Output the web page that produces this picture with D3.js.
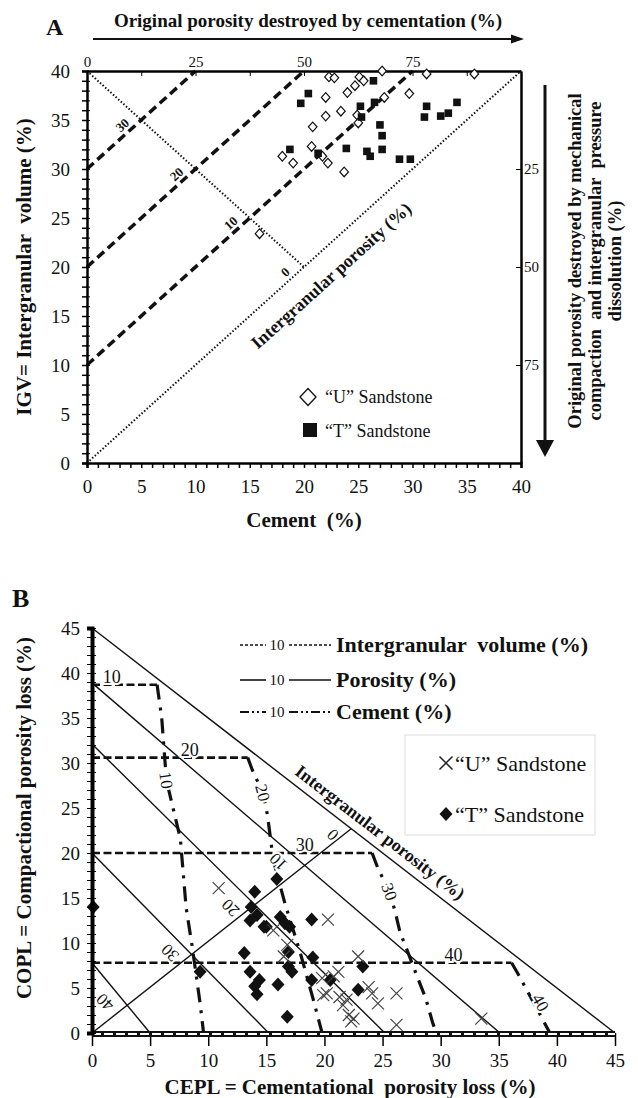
<!DOCTYPE html>
<html>
<head>
<meta charset="utf-8">
<script src="https://cdn.jsdelivr.net/npm/d3@7/dist/d3.min.js"></script>
<style>
  body { margin: 0; background: #fff; }
  svg text { font-family: "Liberation Serif", "Times New Roman", serif; fill: #111; }
  .bold { font-weight: bold; }
  .halo { paint-order: stroke; stroke: #fff; stroke-width: 4px; }
</style>
</head>
<body>
<svg id="fig" width="638" height="1098"></svg>
<script>
// ---------- panel A : IGV vs cement ----------
var uCement = [22.3, 22.8, 25.1, 25.5, 27.2, 31.3, 35.7, 24.0, 24.7, 22.0, 29.7, 27.4, 23.4, 22.0, 20.8, 24.9, 25.0, 20.7, 18.0, 19.0, 21.7, 22.2, 23.7, 15.9];
var uIGV    = [39.4, 39.3, 39.4, 39.0, 40.0, 39.7, 39.7, 37.8, 38.5, 37.3, 37.7, 37.3, 35.9, 35.4, 34.3, 35.5, 34.7, 32.3, 31.3, 30.6, 31.3, 30.6, 29.7, 23.4];
var tCement = [20.4, 19.7, 26.4, 25.2, 26.5, 25.3, 27.0, 27.2, 27.2, 23.9, 25.8, 26.1, 28.8, 29.8, 31.3, 31.1, 32.6, 33.3, 34.1, 18.7, 21.3];
var tIGV    = [37.7, 36.7, 39.0, 36.4, 36.8, 35.3, 34.5, 33.4, 32.0, 32.1, 31.8, 31.3, 31.0, 31.0, 36.4, 35.3, 35.4, 35.7, 36.8, 32.0, 31.6];
var porosityA = [30, 20, 10];          // dashed lines IGV = cement + p
var porosityLabelsA = [30, 20, 10, 0];
var topTicksA = [0, 25, 50, 75];
var rightTicksA = [25, 50, 75];

// ---------- panel B : COPL vs CEPL ----------
var uCEPL = [10.9, 15.6, 16.8, 16.5, 20.3, 22.9, 21.2, 20.8, 19.8, 19.9, 21.3, 21.6, 22.5, 22.3, 23.8, 24.6, 26.2, 26.2, 33.5, 24.1, 21.9, 22.1, 20.2];
var uCOPL = [16.1, 11.4, 9.8, 8.5, 12.6, 8.5, 6.8, 6.3, 6.1, 4.2, 4.0, 3.1, 1.6, 1.3, 5.1, 3.3, 4.4, 0.9, 1.6, 4.4, 3.7, 2.0, 4.4];
var tCEPL = [0.1, 9.3, 14.0, 13.7, 14.2, 13.6, 14.8, 15.9, 16.2, 16.6, 17.0, 18.9, 13.1, 16.9, 19.0, 16.9, 17.2, 13.6, 14.4, 14.0, 14.2, 16.0, 18.9, 20.5, 23.3, 22.9, 16.8, 15.0];
var tCOPL = [14.0, 6.8, 15.7, 14.0, 13.1, 12.5, 11.8, 17.1, 12.9, 12.2, 11.8, 12.6, 8.9, 9.0, 8.4, 7.4, 6.8, 6.8, 5.9, 5.2, 4.3, 5.4, 5.9, 5.9, 7.4, 4.8, 1.8, 11.8];

var igvValues = [10, 20, 30, 40];
var igvCOPL = [38.7, 30.6, 20.0, 7.8];
var igvEndCEPL = [5.6, 13.4, 24.1, 36.1];
var igvLabelCEPL = [1.7, 8.4, 18.3, 31.1];

var porValues = [10, 20, 30, 40];
var porStartCOPL = [38.9, 32.1, 20.0, 7.8];
var porEndCEPL = [35.1, 25.2, 15.2, 5.0];
var porLabelPos = [[16.0, 19.0], [11.9, 13.9], [6.7, 8.9], [1.1, 3.4]];

var cementValues = [10, 20, 30, 40];
var cementCurves = [
    [[5.6, 38.7], [6.0, 35.0], [6.4, 28.1], [7.6, 21.6], [8.1, 13.9], [8.6, 9.8], [9.3, 3.3], [9.6, 0]],
    [[13.4, 30.6], [13.8, 29.2], [14.7, 26.7], [15.1, 24.2], [15.6, 19.2], [16.6, 14.4], [17.9, 9.0], [19.0, 3.9], [19.8, 0]],
    [[24.1, 20.0], [24.6, 18.3], [25.6, 15.7], [26.1, 13.4], [26.5, 11.2], [27.2, 8.9], [28.0, 6.2], [28.7, 3.9], [29.3, 1.2], [29.6, 0]],
    [[36.1, 7.8], [36.6, 6.7], [37.4, 4.8], [38.2, 2.9], [39.4, 0]]
];
var cementLabelPos = [[6.4, 28.1], [14.7, 26.7], [25.6, 15.7], [38.6, 3.4]];
var cementLabelAngle = [82, 75, 70, 60];

var SERIF = '"Liberation Serif", "Times New Roman", serif';
var svg = d3.select('#fig');

function diamond(rx, ry) {
    return 'M0,' + (-ry) + 'L' + rx + ',0L0,' + ry + 'L' + (-rx) + ',0Z';
}
function cross(r) {
    return 'M' + (-r) + ',' + (-r) + 'L' + r + ',' + r + 'M' + r + ',' + (-r) + 'L' + (-r) + ',' + r;
}
function zip(a, b) {
    return a.map(function (d, i) { return [d, b[i]]; });
}

// =============== PANEL A ===============
var xA = d3.scaleLinear().domain([0, 40]).range([87, 521]),
    yA = d3.scaleLinear().domain([0, 40]).range([463, 71]),
    topA = d3.scaleLinear().domain([0, 100]).range([87, 521]),
    rightA = d3.scaleLinear().domain([0, 100]).range([71, 463]);
var lineA = d3.line().x(function (d) { return xA(d[0]); }).y(function (d) { return yA(d[1]); });

var gA = svg.append('g');

// dashed porosity lines
gA.selectAll('.pA').data(porosityA).enter().append('path')
    .attr('d', function (p) { return lineA([[0, p], [40 - p, 40]]); })
    .attr('fill', 'none').attr('stroke', '#111')
    .attr('stroke-width', 3.5).attr('stroke-dasharray', '9,5');

// dotted lines : porosity 0 and original-porosity line
gA.append('path').attr('d', lineA([[0, 0], [40, 40]]))
    .attr('fill', 'none').attr('stroke', '#111').attr('stroke-width', 2).attr('stroke-dasharray', '1.5,2');
gA.append('path').attr('d', lineA([[0, 40], [20, 20]]))
    .attr('fill', 'none').attr('stroke', '#111').attr('stroke-width', 2).attr('stroke-dasharray', '1.5,2');

gA.selectAll('.plab').data(porosityLabelsA).enter().append('text')
    .attr('class', 'bold')
    .attr('transform', function (p) {
        return 'translate(' + (xA((40 - p) / 2) - 19) + ',' + (yA((40 + p) / 2) + 5) + ') rotate(-42)';
    })
    .attr('text-anchor', 'middle').attr('dy', '0.35em')
    .style('font-size', '13px')
    .text(function (p) { return p; });

gA.append('text').attr('class', 'bold')
    .attr('transform', 'translate(' + (xA(22.3) + 2) + ',' + (yA(22.3) + 31) + ') rotate(-42)')
    .attr('text-anchor', 'middle').attr('dy', '0.35em')
    .style('font-size', '18px')
    .text('Intergranular porosity (%)');

// axes
var axBottomA = gA.append('g').attr('transform', 'translate(0,' + yA(0) + ')')
    .call(d3.axisBottom(xA).tickValues(d3.range(0, 41)).tickSize(5).tickPadding(12)
        .tickFormat(function (d) { return d % 5 ? '' : d; }));
var axLeftA = gA.append('g').attr('transform', 'translate(' + xA(0) + ',0)')
    .call(d3.axisLeft(yA).tickValues(d3.range(0, 41)).tickSize(5).tickPadding(12)
        .tickFormat(function (d) { return d % 5 ? '' : d; }));
gA.append('g').attr('transform', 'translate(' + xA(0) + ',0)')
    .call(d3.axisRight(yA).tickValues(d3.range(0, 41)).tickSize(3).tickFormat(''));
[axBottomA, axLeftA].forEach(function (a) {
    a.attr('font-size', 19);
    a.select('.domain').attr('stroke-width', 2.5);
    a.selectAll('.tick line').attr('stroke-width', 1.5);
});
var axTopA = gA.append('g').attr('transform', 'translate(0,' + yA(40) + ')')
    .call(d3.axisTop(topA).tickValues(topTicksA).tickSize(0).tickPadding(4));
axTopA.attr('font-size', 15);
axTopA.select('.domain').attr('stroke-width', 2.5);
gA.append('g').attr('transform', 'translate(0,' + yA(40) + ')')
    .call(d3.axisBottom(topA).tickValues(d3.range(12.5, 100, 12.5)).tickSize(5).tickSizeOuter(0).tickFormat(''))
    .select('.domain').remove();
var axRightA = gA.append('g').attr('transform', 'translate(' + xA(40) + ',0)')
    .call(d3.axisRight(rightA).tickValues(rightTicksA).tickSizeInner(-5).tickSizeOuter(0).tickPadding(3));
axRightA.attr('font-size', 15);
axRightA.select('.domain').attr('stroke-width', 2.5);

// points
gA.selectAll('.uA').data(zip(uCement, uIGV)).enter().append('path')
    .attr('transform', function (d) { return 'translate(' + xA(d[0]) + ',' + yA(d[1]) + ')'; })
    .attr('d', diamond(4.3, 4.8)).attr('fill', '#fff').attr('stroke', '#111').attr('stroke-width', 1.2);
gA.selectAll('.tA').data(zip(tCement, tIGV)).enter().append('rect')
    .attr('x', function (d) { return xA(d[0]) - 3.8; })
    .attr('y', function (d) { return yA(d[1]) - 3.8; })
    .attr('width', 7.6).attr('height', 7.6).attr('fill', '#111');

// legend A
gA.append('path').attr('transform', 'translate(308,397)').attr('d', diamond(8, 8.5))
    .attr('fill', '#fff').attr('stroke', '#111').attr('stroke-width', 1.3);
gA.append('rect').attr('x', 303).attr('y', 423).attr('width', 14).attr('height', 14).attr('fill', '#111');
gA.append('text').attr('x', 325).attr('y', 403).style('font-size', '18px').text('\u201CU\u201D Sandstone');
gA.append('text').attr('x', 325).attr('y', 437).style('font-size', '18px').text('\u201CT\u201D Sandstone');

// titles A
svg.append('text').attr('class', 'bold').attr('x', 46).attr('y', 35).style('font-size', '24px').text('A');
svg.append('text').attr('class', 'bold').attr('x', 308).attr('y', 27).attr('text-anchor', 'middle')
    .style('font-size', '19px').text('Original porosity destroyed by cementation (%)');
svg.append('line').attr('x1', 93).attr('x2', 514).attr('y1', 39).attr('y2', 39)
    .attr('stroke', '#111').attr('stroke-width', 2);
svg.append('path').attr('d', 'M524,39L511,34.5L511,43.5Z').attr('fill', '#111');

svg.append('text').attr('class', 'bold')
    .attr('transform', 'translate(31,267) rotate(-90)').attr('text-anchor', 'middle')
    .style('font-size', '21px').text('IGV= Intergranular  volume (%)').style('white-space', 'pre');
svg.append('text').attr('class', 'bold').attr('x', 304).attr('y', 527).attr('text-anchor', 'middle')
    .style('font-size', '21px').text('Cement  (%)').style('white-space', 'pre');

svg.append('line').attr('x1', 545).attr('x2', 545).attr('y1', 85).attr('y2', 442)
    .attr('stroke', '#111').attr('stroke-width', 3);
svg.append('path').attr('d', 'M545,457L536,440L554,440Z').attr('fill', '#111');
var rightTitle = ['Original porosity destroyed by mechanical', 'compaction  and intergranular  pressure', 'dissolution (%)'];
svg.selectAll('.rt').data(rightTitle).enter().append('text').attr('class', 'bold')
    .attr('transform', function (d, i) { return 'translate(' + (575 + i * 20) + ',261) rotate(-90)'; })
    .attr('text-anchor', 'middle').attr('dy', '0.35em').style('white-space', 'pre')
    .style('font-size', '18.5px').text(function (d) { return d; });

// =============== PANEL B ===============
var xB = d3.scaleLinear().domain([0, 45]).range([92, 615]),
    yB = d3.scaleLinear().domain([0, 45]).range([1033, 628]);
var lineB = d3.line().x(function (d) { return xB(d[0]); }).y(function (d) { return yB(d[1]); });
var gB = svg.append('g');

// solid porosity lines
gB.append('path').attr('d', lineB([[0, 45], [45, 0]]))
    .attr('fill', 'none').attr('stroke', '#111').attr('stroke-width', 1.4);
gB.selectAll('.pB').data(porValues).enter().append('path')
    .attr('d', function (d, i) { return lineB([[0, porStartCOPL[i]], [porEndCEPL[i], 0]]); })
    .attr('fill', 'none').attr('stroke', '#111').attr('stroke-width', 1.4);
gB.append('path').attr('d', lineB([[0, 0], [22.3, 22.7]]))
    .attr('fill', 'none').attr('stroke', '#111').attr('stroke-width', 1.4);

// dashed IGV lines
gB.selectAll('.iB').data(igvValues).enter().append('path')
    .attr('d', function (d, i) { return lineB([[0, igvCOPL[i]], [igvEndCEPL[i], igvCOPL[i]]]); })
    .attr('fill', 'none').attr('stroke', '#111').attr('stroke-width', 2.6).attr('stroke-dasharray', '8,3.5');

// dash-dot cement lines
gB.selectAll('.cB').data(cementCurves).enter().append('path')
    .attr('d', function (d) { return lineB(d); })
    .attr('fill', 'none').attr('stroke', '#111').attr('stroke-width', 3.2).attr('stroke-dasharray', '15,8,3,8');

// points B
gB.selectAll('.tB').data(zip(tCEPL, tCOPL)).enter().append('path')
    .attr('transform', function (d) { return 'translate(' + xB(d[0]) + ',' + yB(d[1]) + ')'; })
    .attr('d', diamond(6.5, 7)).attr('fill', '#111');
gB.selectAll('.uB').data(zip(uCEPL, uCOPL)).enter().append('path')
    .attr('transform', function (d) { return 'translate(' + xB(d[0]) + ',' + yB(d[1]) + ')'; })
    .attr('d', cross(6)).attr('fill', 'none').attr('stroke', '#444').attr('stroke-width', 1.2);

// labels on lines
gB.selectAll('.iLab').data(igvValues).enter().append('text').attr('class', 'halo')
    .attr('x', function (d, i) { return xB(igvLabelCEPL[i]); })
    .attr('y', function (d, i) { return yB(igvCOPL[i]) - 2; })
    .attr('text-anchor', 'middle').style('font-size', '18px')
    .text(function (d) { return d; });
gB.selectAll('.pLab').data(porValues).enter().append('text').attr('class', 'halo')
    .attr('transform', function (d, i) {
        return 'translate(' + xB(porLabelPos[i][0]) + ',' + yB(porLabelPos[i][1]) + ') rotate(225)';
    })
    .attr('text-anchor', 'middle').attr('dy', '0.35em').style('font-size', '17px')
    .text(function (d) { return d; });
gB.append('text').attr('class', 'halo')
    .attr('transform', 'translate(' + xB(20.7) + ',' + yB(22.0) + ') rotate(225)')
    .attr('text-anchor', 'middle').attr('dy', '0.35em').style('font-size', '17px').text('0');
gB.selectAll('.cLab').data(cementValues).enter().append('text').attr('class', 'halo')
    .attr('transform', function (d, i) {
        return 'translate(' + xB(cementLabelPos[i][0]) + ',' + yB(cementLabelPos[i][1]) + ') rotate(' + cementLabelAngle[i] + ')';
    })
    .attr('text-anchor', 'middle').attr('dy', '0.35em').style('font-size', '17px')
    .text(function (d) { return d; });

gB.append('text').attr('class', 'bold')
    .attr('transform', 'translate(' + xB(24.8) + ',' + (yB(20.2) - 19) + ') rotate(37.5)')
    .attr('text-anchor', 'middle').attr('dy', '0.35em')
    .style('font-size', '18px').text('Intergranular porosity (%)');

// axes B
var axBottomB = gB.append('g').attr('transform', 'translate(0,' + yB(0) + ')')
    .call(d3.axisBottom(xB).tickValues(d3.range(0, 46, 5)).tickSize(13).tickPadding(8));
axBottomB.attr('font-size', 19);
axBottomB.select('.domain').remove();
axBottomB.selectAll('.tick line').attr('stroke-width', 1.5);
gB.append('line').attr('x1', xB(0)).attr('x2', xB(45)).attr('y1', yB(0) + 1).attr('y2', yB(0) + 1)
    .attr('stroke', '#111').attr('stroke-width', 6);
gB.append('line').attr('x1', xB(0)).attr('x2', xB(45)).attr('y1', yB(0) + 1).attr('y2', yB(0) + 1)
    .attr('stroke', '#fff').attr('stroke-width', 2).attr('stroke-dasharray', '9,3');

var axLeftB = gB.append('g').attr('transform', 'translate(' + xB(0) + ',0)')
    .call(d3.axisLeft(yB).tickValues(d3.range(0, 46)).tickSize(5).tickPadding(7)
        .tickFormat(function (d) { return d % 5 ? '' : d; }));
axLeftB.attr('font-size', 19);
axLeftB.select('.domain').attr('stroke-width', 4);
gB.append('g').attr('transform', 'translate(' + xB(0) + ',0)')
    .call(d3.axisRight(yB).tickValues(d3.range(0, 46)).tickSize(4).tickFormat(''))
    .select('.domain').remove();

// legend B (line styles)
var legRows = [
    {label: 'Intergranular  volume (%)', dash: '3,2', width: 1.6, y: 645},
    {label: 'Porosity (%)', dash: null, width: 1.6, y: 680},
    {label: 'Cement (%)', dash: '9,3,2,3,2,3', width: 2, y: 712}
];
var leg = gB.selectAll('.leg').data(legRows).enter().append('g');
[[240, 266], [289, 331]].forEach(function (seg) {
    leg.append('line').attr('x1', seg[0]).attr('x2', seg[1])
        .attr('y1', function (d) { return d.y; }).attr('y2', function (d) { return d.y; })
        .attr('stroke', '#111').attr('stroke-width', function (d) { return d.width; })
        .attr('stroke-dasharray', function (d) { return d.dash; });
});
leg.append('text').attr('x', 277).attr('y', function (d) { return d.y + 5; })
    .attr('text-anchor', 'middle').style('font-size', '15px').text('10');
leg.append('text').attr('class', 'bold').attr('x', 336).attr('y', function (d) { return d.y + 7; })
    .style('font-size', '22px').style('white-space', 'pre').text(function (d) { return d.label; });

// legend B (symbols)
gB.append('rect').attr('x', 405).attr('y', 735).attr('width', 190).attr('height', 100)
    .attr('fill', '#fff').attr('stroke', '#ddd').attr('stroke-width', 1);
gB.append('path').attr('transform', 'translate(446,763)').attr('d', cross(6.5))
    .attr('fill', 'none').attr('stroke', '#222').attr('stroke-width', 1.5);
gB.append('path').attr('transform', 'translate(446,814)').attr('d', diamond(6.5, 7)).attr('fill', '#111');
gB.append('text').attr('x', 455).attr('y', 771).style('font-size', '22px').text('\u201CU\u201D Sandstone');
gB.append('text').attr('x', 455).attr('y', 822).style('font-size', '22px').text('\u201CT\u201D Sandstone');

// titles B
svg.append('text').attr('class', 'bold').attr('x', 12).attr('y', 607).style('font-size', '26px').text('B');
svg.append('text').attr('class', 'bold').attr('x', 350).attr('y', 1094).attr('text-anchor', 'middle')
    .style('font-size', '21px').style('white-space', 'pre').text('CEPL = Cementational  porosity loss (%)');
svg.append('text').attr('class', 'bold')
    .attr('transform', 'translate(31,818) rotate(-90)').attr('text-anchor', 'middle')
    .style('font-size', '21px').text('COPL = Compactional porosity loss (%)');

// all text in a Times-like face, axes included
svg.selectAll('text').style('font-family', SERIF);
</script>
</body>
</html>
